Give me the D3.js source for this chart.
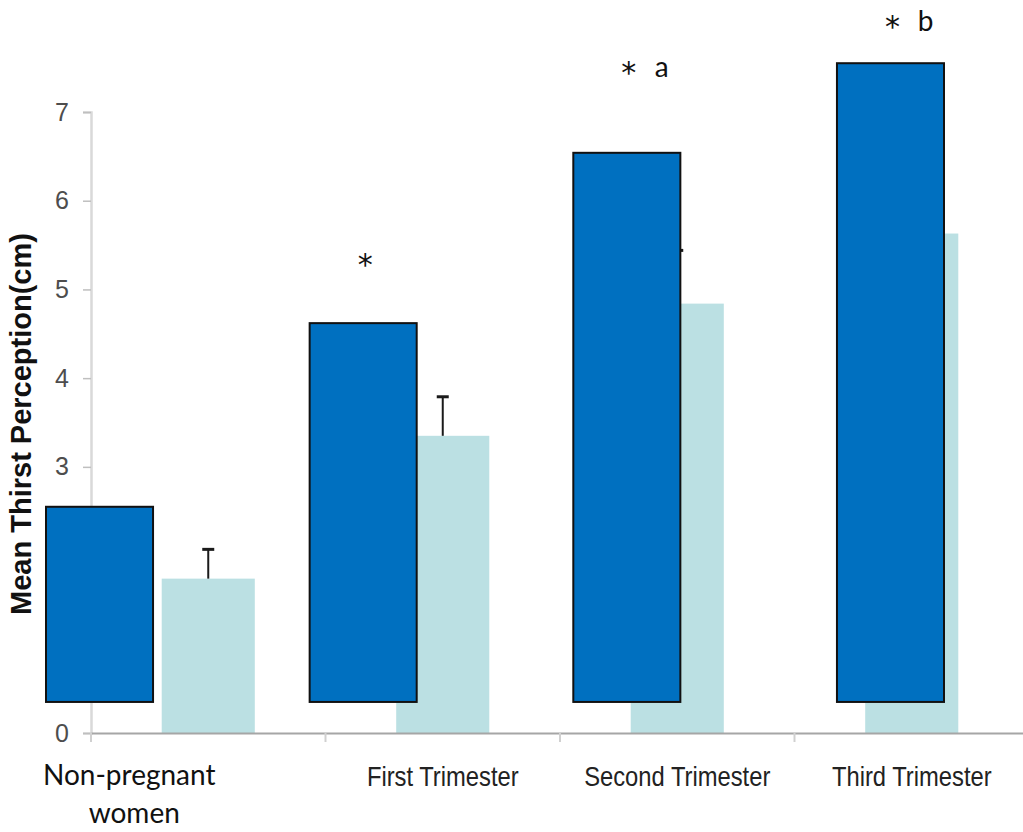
<!DOCTYPE html>
<html>
<head>
<meta charset="utf-8">
<script src="https://cdn.jsdelivr.net/npm/d3@7"></script>
<style>
  html, body { margin: 0; padding: 0; background: #fff; }
  svg { display: block; }
</style>
</head>
<body>
<svg id="chart" width="1023" height="832"></svg>
<script>
// Groups along the x axis
const categories = ["Non-pregnant women", "First Trimester", "Second Trimester", "Third Trimester"];
// Mean thirst perception (cm), front (dark) series
const darkValues = [2.55, 4.62, 6.54, 7.55];
const darkFloor = 0.35;
// Mean thirst perception (cm), rear (light) series and its error-bar tops
const lightValues = [1.74, 3.35, 4.84, 5.63];
const lightErrorTops = [2.07, 3.79, 5.44, 6.20];
// Y axis tick labels
const yTicks = [0, 3, 4, 5, 6, 7];
// Significance markers above the dark bars
const markStars = ["*", "*", "*", "*"];
const markLetters = ["", "", "a", "b"];
const markLevels = [null, 5.33, 7.50, 8.02];

const svg = d3.select("#chart");

const y = d3.scaleLinear().domain([0, 7]).range([733, 112]);

// Category bands for the axis and the light bars
const x = d3.scaleBand().domain(categories).range([91, 1029]).padding(0);
const lightWidth = x.bandwidth() * 0.397;

// Bands for the overlaid dark bars
const xDark = d3.scaleBand().domain(categories).range([46, 944]).paddingInner(0.594).paddingOuter(0);

// Light bars
svg.append("g").selectAll("rect")
  .data(categories)
  .join("rect")
  .attr("x", (d) => x(d) + (x.bandwidth() - lightWidth) / 2)
  .attr("width", lightWidth)
  .attr("y", (d, i) => y(lightValues[i]))
  .attr("height", (d, i) => y(0) - y(lightValues[i]))
  .attr("fill", "#bbe0e3");

// Error bars on the light bars
const err = svg.append("g").attr("stroke", "#1a1a1a").attr("stroke-width", 2);
categories.forEach((d, i) => {
  const cx = x(d) + x.bandwidth() / 2;
  err.append("line").attr("x1", cx).attr("x2", cx)
    .attr("y1", y(lightValues[i])).attr("y2", y(lightErrorTops[i]));
  err.append("line").attr("x1", cx - 6).attr("x2", cx + 6)
    .attr("y1", y(lightErrorTops[i])).attr("y2", y(lightErrorTops[i]))
    .attr("stroke-width", 3);
});

// Y axis
const yAxis = svg.append("g").attr("transform", "translate(91,0)")
  .attr("font-size", 26)
  .call(d3.axisLeft(y).tickValues(yTicks).tickSize(8).tickPadding(14).tickFormat(d3.format("d")));
yAxis.attr("font-size", 26);
yAxis.select(".domain").attr("stroke", "#d9d9d9").attr("stroke-width", 2.5);
yAxis.selectAll(".tick line").attr("stroke", "#bfbfbf").attr("stroke-width", 1.5);
yAxis.selectAll(".tick text")
  .attr("fill", "#4d4d4d")
  .style("font-family", "'Liberation Sans', Arial, sans-serif")
  .style("font-size", "25px");

// X axis
const xAxis = svg.append("g").attr("transform", "translate(0,733)")
  .call(d3.axisBottom(x).tickSize(0).tickFormat(""));
xAxis.select(".domain").attr("stroke", "#a6a6a6").attr("stroke-width", 2);
xAxis.selectAll(".tick").remove();
xAxis.selectAll("line.sep")
  .data(categories)
  .join("line")
  .attr("class", "sep")
  .attr("x1", (d) => x(d)).attr("x2", (d) => x(d))
  .attr("y1", 0).attr("y2", 9)
  .attr("stroke", "#d0d0d0").attr("stroke-width", 2);

// Dark bars drawn over the light series
svg.append("g").selectAll("rect")
  .data(categories)
  .join("rect")
  .attr("x", (d) => xDark(d))
  .attr("width", xDark.bandwidth())
  .attr("y", (d, i) => y(darkValues[i]))
  .attr("height", (d, i) => y(darkFloor) - y(darkValues[i]))
  .attr("fill", "#0070c0")
  .attr("stroke", "#111")
  .attr("stroke-width", 2);

// Significance markers
const marks = svg.append("g").attr("fill", "#111");
categories.forEach((d, i) => {
  if (markLevels[i] === null) return;
  const cx = xDark(d) + xDark.bandwidth() / 2;
  marks.append("text")
    .attr("x", cx + 2).attr("y", y(markLevels[i]) + 15)
    .attr("text-anchor", "middle")
    .style("font-family", "'DejaVu Sans', sans-serif")
    .style("font-size", "30px")
    .text(markStars[i]);
  if (markLetters[i]) {
    marks.append("text")
      .attr("x", cx + 35).attr("y", y(markLevels[i]) + 9)
      .attr("text-anchor", "middle")
      .style("font-family", "Lato, 'Open Sans', sans-serif")
      .style("font-size", "28px")
      .text(markLetters[i]);
  }
});

// Y axis title
svg.append("text")
  .attr("transform", "translate(31,424) rotate(-90)")
  .attr("text-anchor", "middle")
  .style("font-family", "'Liberation Sans', Arial, sans-serif")
  .style("font-weight", "bold")
  .style("font-size", "29px")
  .attr("fill", "#111")
  .text("Mean Thirst Perception(cm)");

// Category labels
const labelG = svg.append("g");
categories.forEach((d, i) => {
  const cx = x(d) + x.bandwidth() / 2;
  if (i === 0) {
    const t = labelG.append("text")
      .attr("text-anchor", "middle")
      .style("font-family", "Lato, 'Open Sans', sans-serif")
      .style("font-size", "28px")
      .attr("fill", "#111");
    t.append("tspan").attr("x", cx - 79).attr("y", 785).text("Non-pregnant");
    t.append("tspan").attr("x", cx - 74).attr("y", 823).text("women");
  } else {
    labelG.append("g")
      .attr("transform", `translate(${cx},786) scale(0.88,1)`)
      .append("text")
      .attr("text-anchor", "middle")
      .style("font-family", "'Liberation Sans Narrow', 'Liberation Sans', Arial, sans-serif")
      .style("font-size", "27px")
      .attr("fill", "#222")
      .text(d);
  }
});
</script>
</body>
</html>
